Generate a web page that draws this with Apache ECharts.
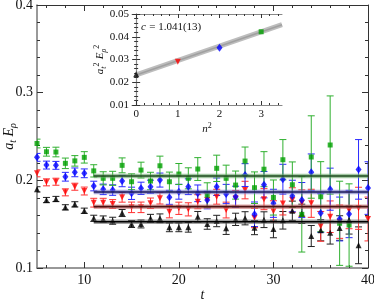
<!DOCTYPE html>
<html><head><meta charset="utf-8">
<script src="https://cdn.jsdelivr.net/npm/echarts@6/dist/echarts.min.js"></script>
<style>html,body{margin:0;padding:0;background:#fff}#c{width:374px;height:303px}</style>
</head><body><div id="c"></div><script>
// ---- data ----
const tValues = [5,6,7,8,9,10,11,12,13,14,15,16,17,18,19,20,21,22,23,24,25,26,27,28,29,30,31,32,33,34,35,36,37,38,39,40];
const blackE = [0.1897,0.1775,0.1787,0.1692,0.1726,0.1653,0.1567,0.1559,0.1539,0.1627,0.1502,0.1502,0.1567,0.1567,0.1464,0.1464,0.1464,0.1585,0.1502,0.1536,0.1453,0.1555,0.1567,0.1460,0.1551,0.1445,0.1544,0.1653,0.1618,0.1365,0.1430,0.1403,0.1456,0.1547,0.1259,null];
const blackErr = [0.003,0.003,0.003,0.003,0.003,0.003,0.0035,0.0035,0.004,0.004,0.004,0.0045,0.0045,0.005,0.005,0.005,0.0055,0.006,0.006,0.0065,0.007,0.007,0.0075,0.008,0.009,0.010,0.010,0.011,0.011,0.012,0.012,0.013,0.014,0.016,0.021,null];
const redE = [0.2080,0.1977,0.1984,0.1863,0.1927,0.1878,0.1745,0.1745,0.1730,0.1806,0.1692,0.1692,0.1738,0.1795,0.1642,0.1681,0.1669,0.1756,0.1775,0.1813,0.1661,0.1795,0.1889,0.1570,0.1785,0.1647,0.1735,0.1775,0.1741,0.1738,0.1475,0.1585,0.1528,0.1658,0.1681,0.1559];
const redErr = [0.004,0.004,0.004,0.004,0.004,0.0045,0.005,0.005,0.005,0.0055,0.006,0.006,0.006,0.0065,0.007,0.007,0.0075,0.008,0.008,0.0085,0.009,0.009,0.010,0.011,0.012,0.012,0.013,0.014,0.015,0.016,0.017,0.018,0.019,0.021,0.024,0.025];
const blueE = [0.2262,0.2174,0.2171,0.2041,0.2091,0.2080,0.1935,0.1897,0.1889,0.1992,0.1852,0.1909,0.1927,0.2003,0.1806,0.1870,0.1927,0.1852,0.1775,0.1927,0.1844,0.1813,0.2060,0.1613,0.1950,0.1738,0.2013,0.1821,0.1775,0.2091,0.1627,0.1899,0.1559,0.1616,0.2125,0.1912];
const blueErr = [0.0045,0.0045,0.0045,0.005,0.005,0.005,0.0055,0.006,0.006,0.0065,0.007,0.007,0.0075,0.008,0.008,0.0085,0.009,0.0095,0.010,0.010,0.011,0.012,0.013,0.014,0.015,0.016,0.017,0.018,0.020,0.021,0.022,0.024,0.025,0.027,0.034,0.030];
const greenE = [0.2420,0.2326,0.2323,0.2194,0.2222,0.2262,0.2108,0.2023,0.2023,0.2171,0.1984,0.2117,0.1992,0.2166,0.1984,0.2072,0.2023,0.2129,0.1832,0.2137,0.2023,0.1946,0.2220,0.1916,0.2127,0.1804,0.2235,0.1950,0.1612,0.2266,0.1813,0.2403,0.1510,0.1490,null,null];
const greenErr = [0.005,0.005,0.0055,0.006,0.006,0.0065,0.007,0.0075,0.008,0.0085,0.009,0.009,0.010,0.011,0.011,0.012,0.012,0.013,0.014,0.015,0.015,0.016,0.016,0.018,0.020,0.020,0.023,0.026,0.043,0.047,0.040,0.056,0.048,0.047,null,null];
const fitRange = [11, 40];
const fitLevels = [0.1528, 0.1700, 0.1867, 0.2049]; // black, red, blue, green
const xTickLabels = [10, 20, 30, 40];
// inset
const nSquared = [0, 1, 2, 3];
const insetE2 = [0.0235, 0.0290, 0.0352, 0.0422];
const insetFitX = [0, 3.5];
const insetFitY = [0.0232, 0.0453];
const insetTickLabels = [0, 1, 2, 3];
const insetText = '{c|c} {n|= 1.041(13)}';

// ---- helpers ----
const SERIF = '"Liberation Serif","DejaVu Serif",serif';
function pts(vals, errs){
  const out=[];
  tValues.forEach((t,i)=>{ if(vals[i]!=null) out.push([t, vals[i], errs[i]]); });
  return out;
}
function errRender(color){
  return function(params, api){
    const x=api.value(0), y=api.value(1), e=api.value(2);
    const a=api.coord([x,y+e]), b=api.coord([x,y-e]);
    const hw=3.5, st={stroke:color,lineWidth:1};
    return {type:'group', children:[
      {type:'line', shape:{x1:a[0],y1:a[1],x2:b[0],y2:b[1]}, style:st},
      {type:'line', shape:{x1:a[0]-hw,y1:a[1],x2:a[0]+hw,y2:a[1]}, style:st},
      {type:'line', shape:{x1:b[0]-hw,y1:b[1],x2:b[0]+hw,y2:b[1]}, style:st}
    ]};
  };
}
const minorMain=[]; for(let v=6; v<40; v+=2){ if(v%10!==0) minorMain.push(v); }
const minorInset=[]; for(let k=0; k<=17; k++){ const v=Math.round(k*0.2*100)/100; if(Math.abs(v-Math.round(v))>1e-6) minorInset.push(v); }

function xAx(grid, pos, min, max, ticks, len, opts){
  return Object.assign({
    type:'value', gridIndex:grid, position:pos, min:min, max:max, nameMoveOverlap:false,
    axisLine:{show:false}, splitLine:{show:false},
    axisTick:{show:true, customValues:ticks, inside:true, length:len, lineStyle:{color:'#333',width:1}},
    axisLabel:{show:false}
  }, opts||{});
}

const series=[];
const groups=[
  {vals:blackE, errs:blackErr, color:'#000000', bar:'#222222', sym:'triangle', size:6, rot:0},
  {vals:redE, errs:redErr, color:'#ff0000', bar:'#ff3030', sym:'triangle', size:6, rot:180},
  {vals:blueE, errs:blueErr, color:'#0000ff', bar:'#2a2aff', sym:'diamond', size:[6,8], rot:0},
  {vals:greenE, errs:greenErr, color:'#00a000', bar:'#30b030', sym:'rect', size:5, rot:0}
];
groups.forEach(g=>{
  const d=pts(g.vals,g.errs);
  series.push({type:'custom', xAxisIndex:0, yAxisIndex:0, clip:true, renderItem:errRender(g.bar),
    encode:{x:0,y:1}, data:d, z:2, silent:true});
  series.push({type:'scatter', xAxisIndex:0, yAxisIndex:0, clip:true, symbol:g.sym, symbolSize:g.size,
    symbolRotate:g.rot, itemStyle:{color:g.color}, data:d.map(p=>[p[0],p[1]]), z:3, silent:true});
});
const bandColors=['rgba(90,90,90,0.55)','rgba(200,110,110,0.6)','rgba(110,110,190,0.6)','rgba(100,160,100,0.6)'];
const lineColors=['#000000','#4a1212','#1a1a5c','#1d4a1d'];
fitLevels.forEach((lv,i)=>{
  const d=[[fitRange[0],lv],[fitRange[1],lv]];
  series.push({type:'line', xAxisIndex:0, yAxisIndex:0, data:d, symbol:'none', silent:true, z:4,
    lineStyle:{color:bandColors[i], width:4.5}});
  series.push({type:'line', xAxisIndex:0, yAxisIndex:0, data:d, symbol:'none', silent:true, z:5,
    lineStyle:{color:lineColors[i], width:1.6}});
});
// inset
const fitD=[[insetFitX[0],insetFitY[0]],[insetFitX[1],insetFitY[1]]];
series.push({type:'line', xAxisIndex:4, yAxisIndex:2, data:fitD, symbol:'none', silent:true, z:4, lineStyle:{color:'#bdbdbd', width:5}});
series.push({type:'line', xAxisIndex:4, yAxisIndex:2, data:fitD, symbol:'none', silent:true, z:5, lineStyle:{color:'#a0a0a0', width:1.5}});
groups.forEach((g,i)=>{
  series.push({type:'scatter', xAxisIndex:4, yAxisIndex:2, symbol:g.sym, symbolSize:g.size, symbolRotate:g.rot,
    itemStyle:{color:g.color}, data:[[nSquared[i], insetE2[i]]], z:6, silent:true});
});

const richSub = {
  i:{fontFamily:SERIF, fontStyle:'italic', fontSize:14, color:'#111', lineHeight:18, verticalAlign:'middle'},
  s:{fontFamily:SERIF, fontStyle:'italic', fontSize:10, color:'#111', lineHeight:10, verticalAlign:'bottom'},
  is:{fontFamily:SERIF, fontStyle:'italic', fontSize:11, color:'#111', lineHeight:15, verticalAlign:'middle'},
  ss:{fontFamily:SERIF, fontStyle:'italic', fontSize:8, color:'#111', lineHeight:8, verticalAlign:'bottom'},
  sp:{fontFamily:SERIF, fontSize:8, color:'#111', lineHeight:8, verticalAlign:'top'}
};

function yAx(grid, pos, min, max, itv, tlen, mlen, opts){
  return Object.assign({
    type:'value', gridIndex:grid, position:pos, min:min, max:max, interval:itv, nameMoveOverlap:false,
    axisLine:{show:true, lineStyle:{color:'#333',width:1}}, splitLine:{show:false},
    axisTick:{inside:true, length:tlen, lineStyle:{color:'#333'}},
    minorTick:{show:true, splitNumber:5, length:mlen, lineStyle:{color:'#333'}},
    axisLabel:{show:false}
  }, opts||{});
}

const option={
  animation:false,
  backgroundColor:'#ffffff',
  grid:[
    {left:37, top:5, right:6, bottom:35, outerBoundsMode:'none', containLabel:false},
    {left:132, top:14, width:150, height:91, outerBoundsMode:'none', containLabel:false}
  ],
  xAxis:[
    xAx(0,'bottom',5,40,xTickLabels,6,{
      axisLine:{show:true, lineStyle:{color:'#777',width:1.5}},
      axisLabel:{show:true, customValues:xTickLabels, fontFamily:SERIF, fontSize:14, color:'#111', margin:5},
      name:'{i|t}', nameLocation:'middle', nameGap:18, nameTextStyle:{rich:richSub}
    }),
    xAx(0,'bottom',5,40,minorMain,3),
    xAx(0,'top',5,40,xTickLabels,6,{axisLine:{show:true, lineStyle:{color:'#333',width:1}}}),
    xAx(0,'top',5,40,minorMain,3),
    xAx(1,'bottom',-0.1,3.5,insetTickLabels,4,{
      axisLine:{show:true, lineStyle:{color:'#888',width:1.2}},
      axisLabel:{show:true, customValues:insetTickLabels, fontFamily:SERIF, fontSize:11, color:'#111', margin:4},
      name:'{is|n}{sp|2}', nameLocation:'middle', nameGap:17, nameTextStyle:{rich:richSub}
    }),
    xAx(1,'bottom',-0.1,3.5,minorInset,2),
    xAx(1,'top',-0.1,3.5,insetTickLabels,4,{axisLine:{show:true, lineStyle:{color:'#888',width:1}}}),
    xAx(1,'top',-0.1,3.5,minorInset,2)
  ],
  yAxis:[
    yAx(0,'left',0.1,0.4,0.1,6,3,{
      axisLine:{show:true, lineStyle:{color:'#777',width:1.5}},
      axisLabel:{show:true, formatter:v=>v.toFixed(1), fontFamily:SERIF, fontSize:14, color:'#111', margin:4},
      name:'{i|a}{s|t} {i|E}{s|ρ}', nameLocation:'middle', nameGap:19, nameRotate:90, nameTextStyle:{rich:richSub}}),
    yAx(0,'right',0.1,0.4,0.1,6,3),
    yAx(1,'left',0.01,0.05,0.01,4,2,{
      axisLine:{show:true, lineStyle:{color:'#888',width:1.2}},
      axisLabel:{show:true, formatter:v=>v.toFixed(2), fontFamily:SERIF, fontSize:11, color:'#111', margin:3},
      name:'{is|a}{ss|t}{sp|2} {is|E}{ss|ρ}{sp|2}', nameLocation:'middle', nameGap:24, nameRotate:90, nameTextStyle:{rich:richSub}}),
    yAx(1,'right',0.01,0.05,0.01,4,2,{axisLine:{show:true, lineStyle:{color:'#888',width:1}}})
  ],
  graphic:[
    {type:'text', left:141, top:21, style:{text:insetText, fill:'#111',
      rich:{c:{fontFamily:SERIF, fontStyle:'italic', fontSize:11, fill:'#111'}, n:{fontFamily:SERIF, fontSize:11, fill:'#111'}}}}
  ],
  series:series
};
const chart=echarts.init(document.getElementById('c'));
chart.setOption(option);
</script></body></html>
